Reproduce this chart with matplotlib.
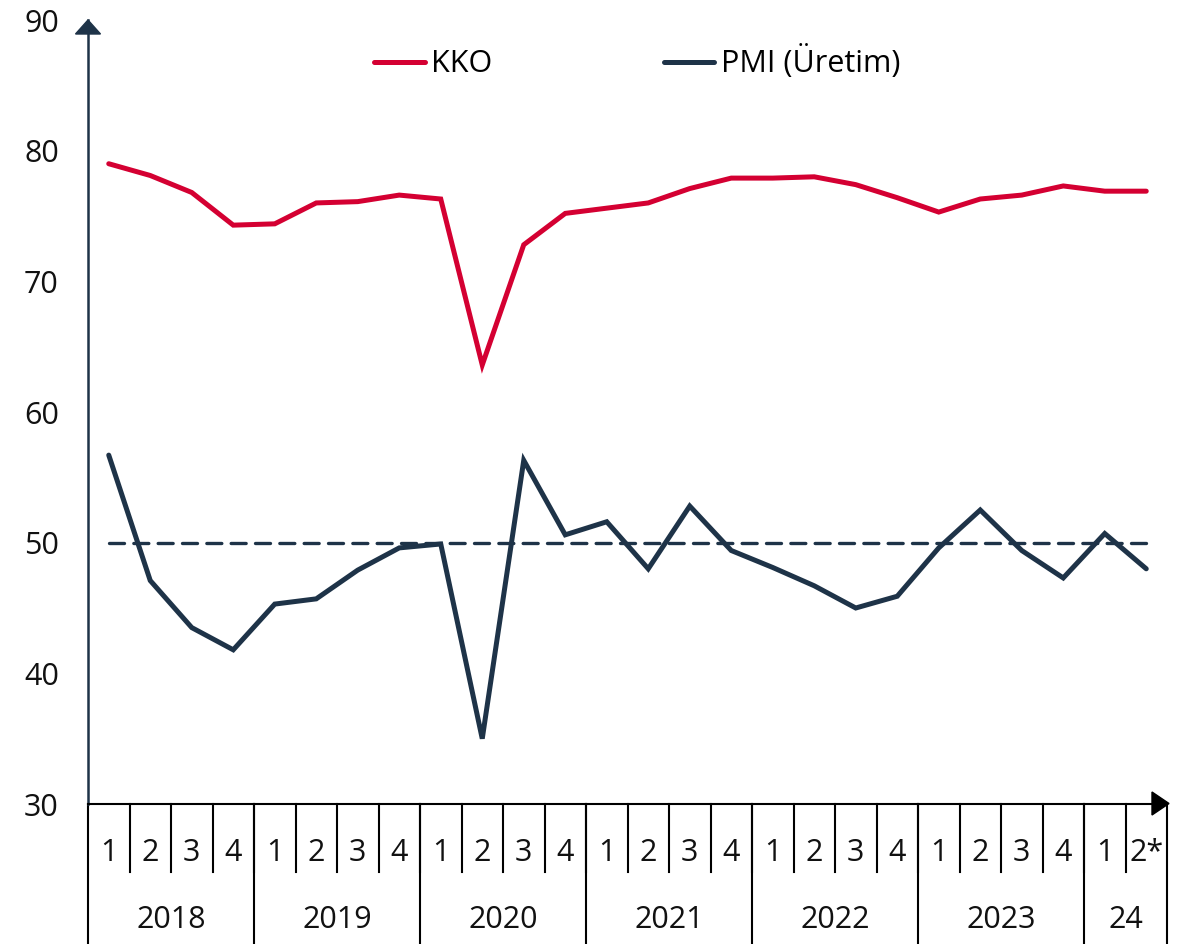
import matplotlib
matplotlib.use('Agg')
import matplotlib.pyplot as plt
from matplotlib.lines import Line2D
from matplotlib.patches import Polygon

plt.rcParams['font.family'] = ['Open Sans', 'DejaVu Sans']

# veriler (çeyreklik)
quarters = ['1', '2', '3', '4'] * 6 + ['1', '2*']
years = ['2018', '2019', '2020', '2021', '2022', '2023', '24']
year_len = [4, 4, 4, 4, 4, 4, 2]
kko = [79.0, 78.1, 76.8, 74.3, 74.4, 76.0, 76.1, 76.6, 76.3, 63.6, 72.8, 75.2,
       75.6, 76.0, 77.1, 77.9, 77.9, 78.0, 77.4, 76.4, 75.3, 76.3, 76.6, 77.3,
       76.9, 76.9]
pmi = [56.7, 47.1, 43.5, 41.8, 45.3, 45.7, 47.9, 49.6, 49.9, 35.0, 56.3, 50.6,
       51.6, 48.0, 52.8, 49.4, 48.1, 46.7, 45.0, 45.9, 49.6, 52.5, 49.4, 47.3,
       50.7, 48.0]
threshold = 50

RED = '#D40032'
NAVY = '#1E3348'
FS = 22

W, H = 1183, 944
fig = plt.figure(figsize=(W / 100, H / 100), dpi=100)
x0, x1, ytop, ybot = 88, 1167, 20, 804
ax = fig.add_axes([x0 / W, (H - ybot) / H, (x1 - x0) / W, (ybot - ytop) / H])

n = len(quarters)
xs = list(range(n))
ax.plot(xs, kko, color=RED, lw=3.6, solid_capstyle='round', solid_joinstyle='miter', zorder=3)
ax.plot(xs, pmi, color=NAVY, lw=3.6, solid_capstyle='round', solid_joinstyle='miter', zorder=3)
ax.plot([0, n - 1], [threshold, threshold], color=NAVY, lw=2.4, ls=(0, (4.5, 2.8)),
        dash_capstyle='round', zorder=2)

ax.set_xlim(-0.5, n - 0.5)
ax.set_ylim(30, 90)
ax.set_yticks(range(30, 91, 10))
ax.tick_params(axis='y', length=0, pad=21, labelsize=FS, colors='#111111')
ax.set_xticks([])

for s in ['top', 'right']:
    ax.spines[s].set_visible(False)
ax.spines['left'].set_color(NAVY)
ax.spines['left'].set_linewidth(1.8)
ax.spines['bottom'].set_color('black')
ax.spines['bottom'].set_linewidth(1.5)


def px(x, y):
    return (x / 100, (H - y) / 100)


# ok uçları
fig.patches.append(Polygon([px(88, 20), px(75.5, 34), px(100.5, 34)], closed=True,
                           color=NAVY, transform=fig.dpi_scale_trans, zorder=5))
fig.patches.append(Polygon([px(1169, 803.5), px(1152, 792), px(1152, 815)], closed=True,
                           color='black', transform=fig.dpi_scale_trans, zorder=5))

# iki seviyeli x ekseni
trans = ax.get_xaxis_transform()
span = ybot - ytop
q_depth = -(872 - ybot) / span
y_depth = -(H - ybot) / span
for i in range(1, n):
    ax.plot([i - 0.5, i - 0.5], [0, q_depth], color='black', lw=1.5, transform=trans, clip_on=False)
for i, q in enumerate(quarters):
    ax.text(i, -(853 - ybot) / span, q, transform=trans, ha='center', va='center',
            fontsize=FS, color='#111111')
pos = -0.5
ax.plot([pos, pos], [0, y_depth], color='black', lw=1.5, transform=trans, clip_on=False)
for yr, k in zip(years, year_len):
    ax.text(pos + k / 2, -(920 - ybot) / span, yr, transform=trans, ha='center', va='center',
            fontsize=FS, color='#111111')
    pos += k
    ax.plot([pos, pos], [0, y_depth], color='black', lw=1.5, transform=trans, clip_on=False)

handles = [Line2D([], [], color=RED, lw=3.6, solid_capstyle='round'),
           Line2D([], [], color=NAVY, lw=3.6, solid_capstyle='round')]
ax.legend(handles, ['KKO', 'PMI (Üretim)'], loc='center', bbox_to_anchor=(0.509, 0.946),
          ncol=2, frameon=False, fontsize=FS, handlelength=1.65, handletextpad=0.22,
          columnspacing=5.6, borderpad=0, borderaxespad=0)

fig.savefig('out.png', dpi=100)
